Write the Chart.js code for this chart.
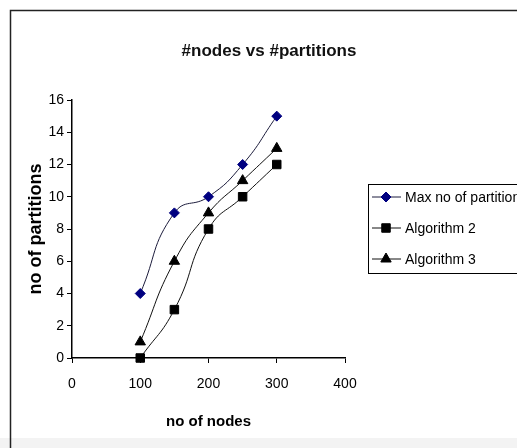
<!DOCTYPE html>
<html>
<head>
<meta charset="utf-8">
<title>#nodes vs #partitions</title>
<script src="https://cdn.jsdelivr.net/npm/chart.js@4.4.1/dist/chart.umd.min.js"></script>
<style>
  html, body { margin: 0; padding: 0; background: #fff; }
  #wrap { width: 517px; height: 448px; }
</style>
</head>
<body>
<div id="wrap"><canvas id="chart" width="517" height="448"></canvas></div>
<script>
// data
const nodes = [100, 150, 200, 250, 300];
const maxPartitions = [4, 9, 10, 12, 15];
const algorithm2 = [0, 3, 8, 10, 12];
const algorithm3 = [1, 6, 9, 11, 13];
const seriesNames = ['Max no of partitions', 'Algorithm 2', 'Algorithm 3'];
const chartTitle = '#nodes vs #partitions';
const xTitle = 'no of nodes';
const yTitle = 'no of partitions';

const font = "'Liberation Sans', Arial, sans-serif";

const toPoints = ys => nodes.map((x, i) => ({ x: x, y: ys[i] }));

// frame + title (Excel-style outer border)
const framePlugin = {
  id: 'frame',
  beforeDraw(chart) {
    const c = chart.ctx;
    c.save();
    c.fillStyle = '#fff';
    c.fillRect(0, 0, chart.width, chart.height);
    c.fillStyle = '#f3f3f3';
    c.fillRect(0, 438, chart.width, 10);
    c.strokeStyle = '#222';
    c.lineWidth = 1.5;
    c.beginPath();
    c.moveTo(10.5, chart.height);
    c.lineTo(10.5, 10.5);
    c.lineTo(chart.width + 2, 10.5);
    c.stroke();
    c.restore();
  },
  afterDraw(chart) {
    const c = chart.ctx;
    c.save();
    c.fillStyle = '#111';
    c.font = 'bold 17px ' + font;
    c.textAlign = 'center';
    c.textBaseline = 'middle';
    c.fillText(chartTitle, 269, 51);
    c.restore();
  }
};

// boxed legend on the right, cut by the page edge like the reference
const legendPlugin = {
  id: 'boxLegend',
  afterDraw(chart) {
    const c = chart.ctx;
    c.save();
    c.strokeStyle = '#000';
    c.lineWidth = 1;
    c.strokeRect(368.5, 184.5, 170, 89);
    chart.data.datasets.forEach((ds, i) => {
      const y = 197 + i * 31;
      c.strokeStyle = ds.borderColor;
      c.lineWidth = 1;
      c.beginPath();
      c.moveTo(372, y);
      c.lineTo(401, y);
      c.stroke();
      c.fillStyle = ds.pointBackgroundColor;
      c.strokeStyle = ds.pointBorderColor;
      Chart.helpers.drawPoint(c, {
        pointStyle: ds.pointStyle, radius: ds.pointRadius, rotation: 0, borderWidth: 1
      }, 386, y);
      c.fillStyle = '#000';
      c.font = '14px ' + font;
      c.textAlign = 'left';
      c.textBaseline = 'middle';
      c.fillText(ds.label, 405, y + 1);
    });
    c.restore();
  }
};

new Chart(document.getElementById('chart'), {
  type: 'line',
  data: {
    datasets: [
      {
        label: seriesNames[0],
        data: toPoints(maxPartitions),
        borderColor: '#1c1c3c',
        borderWidth: 1,
        pointStyle: 'rectRot',
        pointRadius: 5,
        pointBackgroundColor: '#000080',
        pointBorderColor: '#000080',
        tension: 0.5,
      },
      {
        label: seriesNames[1],
        data: toPoints(algorithm2),
        borderColor: '#111',
        borderWidth: 1,
        pointStyle: 'rect',
        pointRadius: 6,
        pointBackgroundColor: '#000',
        pointBorderColor: '#000',
        tension: 0.5,
      },
      {
        label: seriesNames[2],
        data: toPoints(algorithm3),
        borderColor: '#111',
        borderWidth: 1,
        pointStyle: 'triangle',
        pointRadius: 6,
        pointBackgroundColor: '#000',
        pointBorderColor: '#000',
        tension: 0.5,
      },
    ],
  },
  options: {
    responsive: false,
    animation: false,
    clip: false,
    layout: { padding: { left: 12, right: 172, top: 100, bottom: 10 } },
    plugins: {
      legend: { display: false },
      title: { display: false },
      tooltip: { enabled: false },
    },
    scales: {
      x: {
        type: 'linear',
        min: 0, max: 400,
        afterFit: s => { s.height = 80; },
        grid: { drawOnChartArea: false, drawTicks: true, tickLength: 5, color: '#000' },
        border: { color: '#000', width: 1.5 },
        ticks: { stepSize: 100, color: '#000', padding: 13, font: { family: font, size: 14 } },
        title: { display: true, text: xTitle, color: '#000', padding: { top: 0, bottom: 7 },
                 font: { family: font, size: 15, weight: 'bold' } },
      },
      y: {
        min: 0, max: 16,
        afterFit: s => { s.width = 60; },
        grid: { drawOnChartArea: false, drawTicks: true, tickLength: 5, color: '#000' },
        border: { color: '#000', width: 1.5 },
        ticks: { stepSize: 2, color: '#000', padding: 3, font: { family: font, size: 14 } },
        title: { display: true, text: yTitle, color: '#000', padding: { top: 13, bottom: 0 },
                 font: { family: font, size: 18, weight: 'bold' } },
      },
    },
  },
  plugins: [framePlugin, legendPlugin],
});
</script>
</body>
</html>
